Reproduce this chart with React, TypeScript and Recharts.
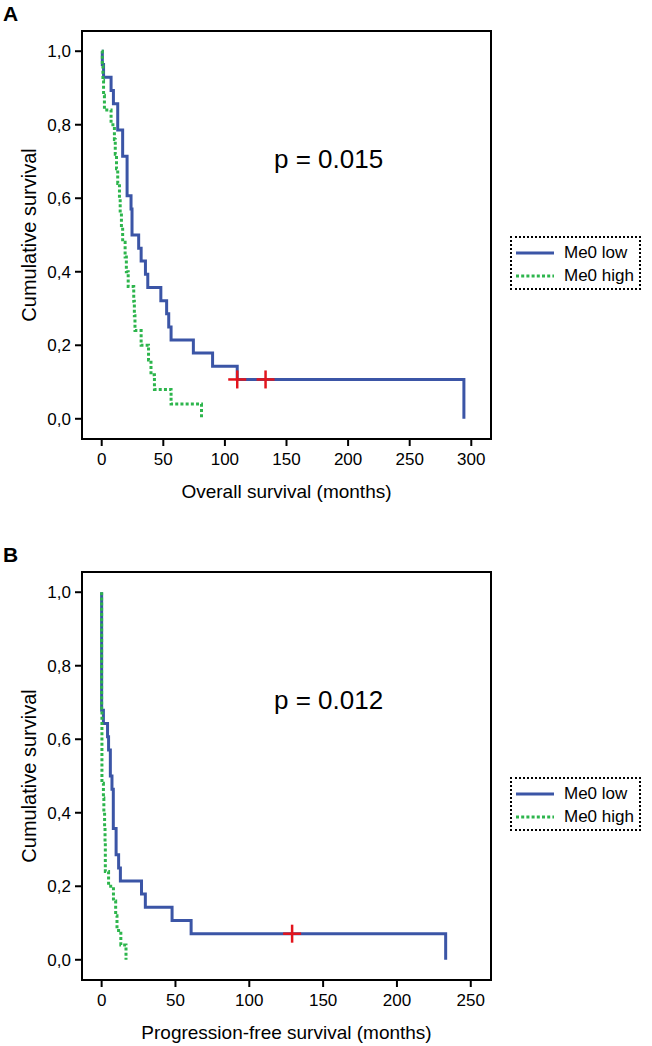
import { ComposedChart, Line, Scatter, XAxis, YAxis, ReferenceArea } from 'recharts';

const FONT = '"Liberation Sans", Arial, Helvetica, sans-serif';
const BLUE = '#3b55a6';
const GREEN = '#2db54c';
const RED = '#e3141c';

// A: overall survival, Me0 low
const osLowMonths = [0, 0.5, 1.5, 7.6, 9.5, 13, 17, 20.6, 23.8, 24.6, 30, 32, 35.5, 37.4, 48, 52.7, 54.4, 56.3, 74.4, 90, 110, 294];
const osLowSurv = [1, 0.964, 0.929, 0.893, 0.857, 0.786, 0.714, 0.607, 0.571, 0.5, 0.464, 0.429, 0.393, 0.357, 0.321, 0.286, 0.25, 0.214, 0.179, 0.143, 0.107, 0];
// A: overall survival, Me0 high
const osHighMonths = [0, 0.5, 1, 1.5, 2.2, 7.6, 10.3, 11, 12, 13, 14.4, 15, 16, 17, 19, 20, 21.5, 26, 26.5, 27, 32, 38, 40, 42.8, 56.3, 81];
const osHighSurv = [1, 0.96, 0.92, 0.88, 0.84, 0.8, 0.76, 0.72, 0.68, 0.64, 0.6, 0.56, 0.52, 0.48, 0.44, 0.4, 0.36, 0.32, 0.28, 0.24, 0.2, 0.16, 0.12, 0.08, 0.04, 0];
const osCensorMonths = [110, 133];
const osCensorSurv = [0.107, 0.107];

// B: progression-free survival, Me0 low
const pfsLowMonths = [0, 0, 1.2, 4, 4.7, 5.9, 7, 7.9, 9.8, 11.5, 12.7, 27, 29.6, 47.7, 60.6, 233];
const pfsLowSurv = [1, 0.679, 0.643, 0.607, 0.571, 0.5, 0.464, 0.357, 0.286, 0.25, 0.214, 0.179, 0.143, 0.107, 0.071, 0];
// B: progression-free survival, Me0 high
const pfsHighMonths = [0, 0, 0.2, 1.2, 1.5, 2, 2.3, 2.5, 4.7, 8, 9.5, 10.4, 13, 16.5];
const pfsHighSurv = [1, 0.68, 0.48, 0.44, 0.4, 0.36, 0.32, 0.24, 0.2, 0.16, 0.12, 0.08, 0.04, 0];
const pfsCensorMonths = [129];
const pfsCensorSurv = [0.071];

const osTicks = [0, 50, 100, 150, 200, 250, 300];
const pfsTicks = [0, 50, 100, 150, 200, 250];
const survTicks = [0, 0.2, 0.4, 0.6, 0.8, 1];
const seriesNames = ['Me0 low', 'Me0 high'];

const pts = (t: number[], s: number[]) => t.map((x, i) => ({ t: x, s: s[i] }));

function Cross(props: any) {
  const { cx, cy } = props;
  if (cx == null || cy == null) return null;
  return (
    <g>
      <line x1={cx - 9} y1={cy} x2={cx + 9} y2={cy} stroke={RED} strokeWidth={2.5} />
      <line x1={cx} y1={cy - 9} x2={cx} y2={cy + 9} stroke={RED} strokeWidth={2.5} />
    </g>
  );
}

function LegendBox({ top }: { top: number }) {
  return (
    <div
      style={{
        position: 'absolute', left: 510, top, width: 131, height: 54,
        border: '2px dotted #000', boxSizing: 'border-box', fontFamily: FONT, fontSize: 17,
        paddingTop: 3,
      }}
    >
      {seriesNames.map((name, i) => (
        <div key={name} style={{ display: 'flex', alignItems: 'center', height: 23 }}>
          <svg width={48} height={10} style={{ marginLeft: 4 }}>
            <line x1={0} y1={5} x2={38} y2={5} stroke={i === 0 ? BLUE : GREEN} strokeWidth={3}
              strokeDasharray={i === 0 ? undefined : '3 2.2'} />
          </svg>
          <span>{name}</span>
        </div>
      ))}
    </div>
  );
}

interface PanelProps {
  top: number;
  letter: string;
  low: { t: number; s: number }[];
  high: { t: number; s: number }[];
  censored: { t: number; s: number }[];
  xDomain: [number, number];
  xTicks: number[];
  xTitle: string;
  pText: string;
}

function Panel({ top, letter, low, high, censored, xDomain, xTicks, xTitle, pText }: PanelProps) {
  const yDomain: [number, number] = [-0.055, 1.055];
  return (
    <div style={{ position: 'absolute', left: 0, top, width: 652, height: 520 }}>
      <ComposedChart width={652} height={520} margin={{ top: 31, right: 161, bottom: 0, left: 0 }}>
        <XAxis
          type="number"
          dataKey="t"
          domain={xDomain}
          ticks={xTicks}
          allowDataOverflow
          axisLine={false}
          tickLine={{ stroke: '#000', strokeWidth: 2 }}
          tickSize={7}
          tickMargin={7}
          height={81}
          tick={{ fill: '#000', fontSize: 17, fontFamily: FONT }}
          label={{ value: xTitle, position: 'insideBottom', offset: 22, fill: '#000', fontSize: 19, fontFamily: FONT }}
        />
        <YAxis
          type="number"
          domain={yDomain}
          ticks={survTicks}
          allowDataOverflow
          axisLine={false}
          tickLine={{ stroke: '#000', strokeWidth: 2 }}
          tickSize={7}
          tickMargin={4}
          width={82}
          tickFormatter={(v: number) => v.toFixed(1).replace('.', ',')}
          tick={{ fill: '#000', fontSize: 17, fontFamily: FONT }}
          label={{ value: 'Cumulative survival', angle: -90, position: 'insideLeft', offset: 29, fill: '#000', fontSize: 20, fontFamily: FONT, style: { textAnchor: 'middle' } }}
        />
        <ReferenceArea x1={xDomain[0]} x2={xDomain[1]} y1={yDomain[0]} y2={yDomain[1]} fill="none" stroke="#000" strokeWidth={2} ifOverflow="visible" />
        <Line data={low} dataKey="s" type="stepAfter" stroke={BLUE} strokeWidth={3} dot={false} isAnimationActive={false} />
        <Line data={high} dataKey="s" type="stepAfter" stroke={GREEN} strokeWidth={3} strokeDasharray="3 2.2" dot={false} isAnimationActive={false} />
        <Scatter data={censored} dataKey="s" shape={(p: any) => <Cross {...p} />} isAnimationActive={false} />
      </ComposedChart>
      <div style={{ position: 'absolute', left: 3, top: 2, fontFamily: FONT, fontWeight: 'bold', fontSize: 21 }}>{letter}</div>
      <div style={{ position: 'absolute', left: 274, top: 144, fontFamily: FONT, fontSize: 26 }}>{pText}</div>
      <LegendBox top={236} />
    </div>
  );
}

export default function App() {
  return (
    <div style={{ position: 'absolute', left: 0, top: 0, width: 652, height: 1046, background: '#fff' }}>
      <Panel
        top={0}
        letter="A"
        low={pts(osLowMonths, osLowSurv)}
        high={pts(osHighMonths, osHighSurv)}
        censored={pts(osCensorMonths, osCensorSurv)}
        xDomain={[-16, 316]}
        xTicks={osTicks}
        xTitle="Overall survival (months)"
        pText="p = 0.015"
      />
      <Panel
        top={541}
        letter="B"
        low={pts(pfsLowMonths, pfsLowSurv)}
        high={pts(pfsHighMonths, pfsHighSurv)}
        censored={pts(pfsCensorMonths, pfsCensorSurv)}
        xDomain={[-13.3, 263.7]}
        xTicks={pfsTicks}
        xTitle="Progression-free survival (months)"
        pText="p = 0.012"
      />
    </div>
  );
}
